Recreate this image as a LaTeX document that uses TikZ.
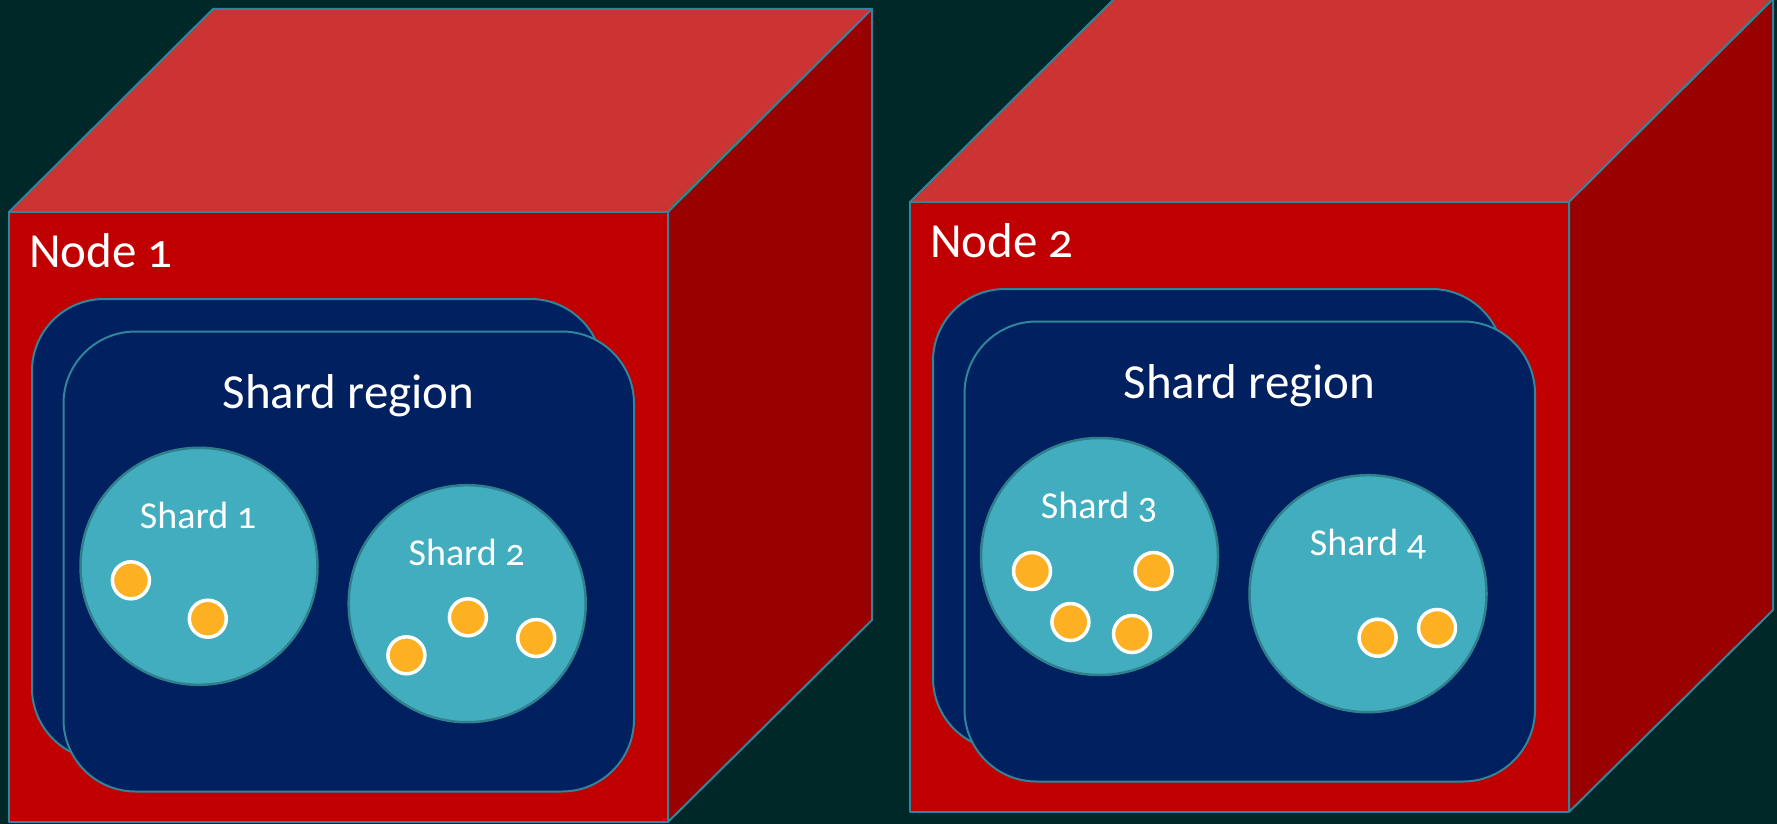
\documentclass[tikz,border=0pt]{standalone}
\usepackage{fontspec}
\setmainfont{Carlito}[Numbers=OldStyle]
\definecolor{bgc}{RGB}{1,40,40}
\definecolor{topc}{RGB}{204,51,51}
\definecolor{frontc}{RGB}{192,0,0}
\definecolor{sidec}{RGB}{153,0,0}
\definecolor{edgec}{RGB}{49,133,155}
\definecolor{navyc}{RGB}{0,32,96}
\definecolor{shardc}{RGB}{65,173,190}
\definecolor{shardedge}{RGB}{47,128,140}
\definecolor{dotc}{RGB}{252,176,34}
\tikzset{
  face/.style={draw=edgec, line width=2pt, line join=round},
  regionbox/.style={draw=edgec, fill=navyc, line width=2pt, rounded corners=72pt},
  shardcircle/.style={circle, draw=shardedge, fill=shardc, line width=2.5pt, minimum size=237pt, inner sep=0pt},
  keydot/.style={circle, draw=white, fill=dotc, line width=3.5pt, minimum size=37pt, inner sep=0pt},
  nodelabel/.style={text=white, font=\fontsize{49}{55}\selectfont, anchor=base west, inner sep=0pt},
  regionlabel/.style={text=white, font=\fontsize{49}{55}\selectfont, anchor=base, inner sep=0pt},
  shardlabel/.style={text=white, font=\fontsize{38}{44}\selectfont, anchor=base, inner sep=0pt},
}
\newcommand\cubebody{%
  \filldraw[face, fill=topc] (9,212) -- (213,9) -- (872,9) -- (668,212) -- cycle;
  \filldraw[face, fill=sidec] (668,212) -- (872,9) -- (872,620) -- (668,822) -- cycle;
  \filldraw[face, fill=frontc] (9,212) rectangle (668,822);
  \draw[regionbox] (32,299) rectangle (602.5,760);
  \draw[regionbox] (63.5,331.5) rectangle (634,791.5);
}
\begin{document}
\begin{tikzpicture}[x=1pt,y=-1pt]
\useasboundingbox (0,0) rectangle (1777,824);
\clip (0,0) rectangle (1777,824);
\fill[bgc] (0,0) rectangle (1777,824);
% Node 1
\begin{scope}
  \cubebody
  \node[nodelabel] (node1) at (29,267) {Node 1};
  \node[regionlabel] (region1) at (348.5,408) {Shard region};
  \node[shardcircle] (shard1) at (199,566.3) {};
  \node[shardcircle] (shard2) at (467.2,603.7) {};
  \node[shardlabel] (shard1label) at (198,528.3) {Shard 1};
  \node[shardlabel] (shard2label) at (466.7,565) {Shard 2};
  \node[keydot] (d11) at (130.9,580.3) {};
  \node[keydot] (d12) at (207.8,618.7) {};
  \node[keydot] (d21) at (406.4,655.3) {};
  \node[keydot] (d22) at (467.9,617.3) {};
  \node[keydot] (d23) at (536.2,638) {};
\end{scope}
% Node 2
\begin{scope}[shift={(901,-10)}]
  \cubebody
  \node[nodelabel] (node2) at (29,267) {Node 2};
  \node[regionlabel] (region2) at (348.5,408) {Shard region};
  \node[shardcircle] (shard3) at (198.5,566.5) {};
  \node[shardcircle] (shard4) at (467,603.7) {};
  \node[shardlabel] (shard3label) at (198,528.3) {Shard 3};
  \node[shardlabel] (shard4label) at (467,565) {Shard 4};
  \node[keydot] (d31) at (131,581) {};
  \node[keydot] (d32) at (252.6,581) {};
  \node[keydot] (d33) at (169.4,632) {};
  \node[keydot] (d34) at (231,644) {};
  \node[keydot] (d41) at (476.6,647.7) {};
  \node[keydot] (d42) at (536,638) {};
\end{scope}
\end{tikzpicture}
\end{document}
